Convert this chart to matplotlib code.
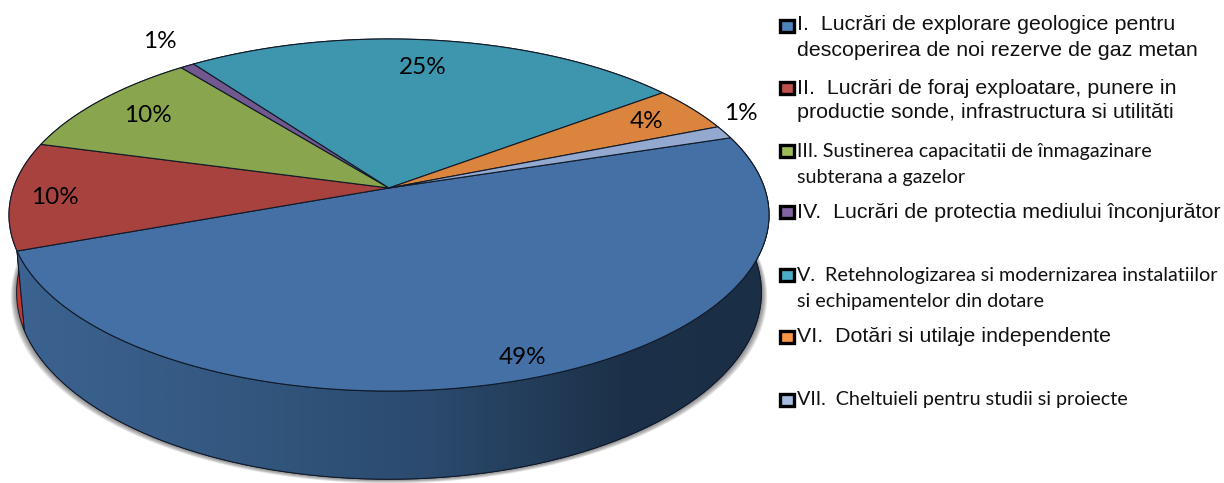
import numpy as np
import matplotlib
matplotlib.use("Agg")
from matplotlib import pyplot as plt
from matplotlib.colors import LinearSegmentedColormap
from matplotlib.patches import Polygon

# shares, clockwise from the first slice
values = [49.3, 9.9, 10.1, 0.7, 24.6, 4.2, 1.2]
pct_labels = ["49%", "10%", "10%", "1%", "25%", "4%", "1%"]
colors = ["#4570a5", "#a7423f", "#89a54e", "#71588f", "#3d96ae", "#db843d", "#93a9cf"]
wall_colors = ["#375c87", "#c0392f", "#6d833d", "#5a4672", "#30788b", "#ae6930", "#7587a5"]
legend_colors = ["#4f81bd", "#c0504d", "#9bbb59", "#8064a2", "#4bacc6", "#f79646", "#a5bce0"]
legend_lines = [
    ["I.  Lucrări de explorare geologice pentru", "descoperirea de noi rezerve de gaz metan"],
    ["II.  Lucrări de foraj exploatare, punere in", "productie sonde, infrastructura si utilităti"],
    ["III. Sustinerea capacitatii de înmagazinare", "subterana a gazelor"],
    ["IV.  Lucrări de protectia mediului înconjurător"],
    ["V.  Retehnologizarea si modernizarea instalatiilor", "si echipamentelor din dotare"],
    ["VI.  Dotări si utilaje independente"],
    ["VII.  Cheltuieli pentru studii si proiecte"],
]

# layout in pixels
start_angle = 72.2
label_xy = [(523, 357), (55, 197), (148, 116), (160, 42), (423, 68), (647, 121), (741, 113)]
legend_y = [26, 88, 151, 212, 275, 337, 400]
legend_text_y = [(25, 50), (88, 112), (151, 177), (212,), (275, 302), (336,), (400,)]
legend_font = ["Liberation Sans", "Liberation Sans", "Lato", "Liberation Sans", "Lato", "Liberation Sans", "Lato"]
legend_size = [15.4, 15.4, 14.2, 15.4, 14.2, 15.4, 14.2]
cx, cy = 389, 188
persp = 0.1534
scale_x, scale_y = 375.5, 171.9


def top_edge(deg):
    t = np.radians(deg)
    d = 1 - persp * (-np.cos(t))
    return cx + scale_x * np.sin(t) / d, cy + scale_y * (-np.cos(t)) / d


def bottom_edge(deg):
    x, y = top_edge(deg)
    return cx + (x - cx) * 0.98, cy + 76 + (y - cy) * 1.06


fig = plt.figure(figsize=(12.24, 4.83), dpi=100)
ax = fig.add_axes([0, 0, 1, 1])

edges = start_angle + np.cumsum([0] + values) * 3.6

# soft shadow under the pie
all_deg = np.linspace(0, 360, 361)
bx, by = bottom_edge(all_deg)
for grow in np.linspace(6, 0.5, 12):
    ax.add_patch(Polygon(np.column_stack([cx + (bx - cx) * (1 + grow / 380), by + grow * 0.7]),
                         closed=True, fc="#404040", ec="none", alpha=0.07, zorder=1))

# side walls, hidden parts get covered by the top face
for i in range(len(values)):
    deg = np.linspace(edges[i], edges[i + 1], 100)
    tx, ty = top_edge(deg)
    bx, by = bottom_edge(deg)
    pts = np.column_stack([np.r_[tx, bx[::-1]], np.r_[ty, by[::-1]]])
    wall = Polygon(pts, closed=True, fc=wall_colors[i], ec="#10182a", lw=0.7, zorder=2 + i * 0.01)
    ax.add_patch(wall)
    if i == 0:
        # blue wall fades to dark going right
        cmap = LinearSegmentedColormap.from_list(
            "wall", [(0, "#3c6391"), (0.3, "#33577f"), (0.55, "#2b4a6e"), (0.8, "#1c3149"), (1, "#1a2e45")])
        im = ax.imshow(np.linspace(0, 1, 400)[None, :], cmap=cmap, aspect="auto",
                       extent=(10, 775, 483, 200), zorder=2.5)
        im.set_clip_path(wall)
        ax.add_patch(Polygon(pts, closed=True, fc="none", ec="#10182a", lw=0.7, zorder=2.6))

# top face
for i in range(len(values)):
    deg = np.linspace(edges[i], edges[i + 1], 200)
    tx, ty = top_edge(deg)
    pts = np.column_stack([np.r_[cx, tx], np.r_[cy, ty]])
    ax.add_patch(Polygon(pts, closed=True, fc=colors[i], ec="#111a28", lw=0.8, zorder=3))

for lab, (x, y) in zip(pct_labels, label_xy):
    ax.text(x, y, lab, family="Lato", fontsize=17.5, color="black", ha="center", va="center", zorder=4)

# legend
for i, lines in enumerate(legend_lines):
    ax.add_patch(plt.Rectangle((780, legend_y[i] - 6), 13.5, 12, fc=legend_colors[i], ec="black", lw=2.4, zorder=4))
    for line, y in zip(lines, legend_text_y[i]):
        ax.text(797, y, line, family=legend_font[i], fontsize=legend_size[i], color="#111111",
                ha="left", va="center", zorder=4)

ax.set_xlim(0, 1224)
ax.set_ylim(483, 0)
ax.axis("off")
fig.savefig("out.png", dpi=100, facecolor="white")
